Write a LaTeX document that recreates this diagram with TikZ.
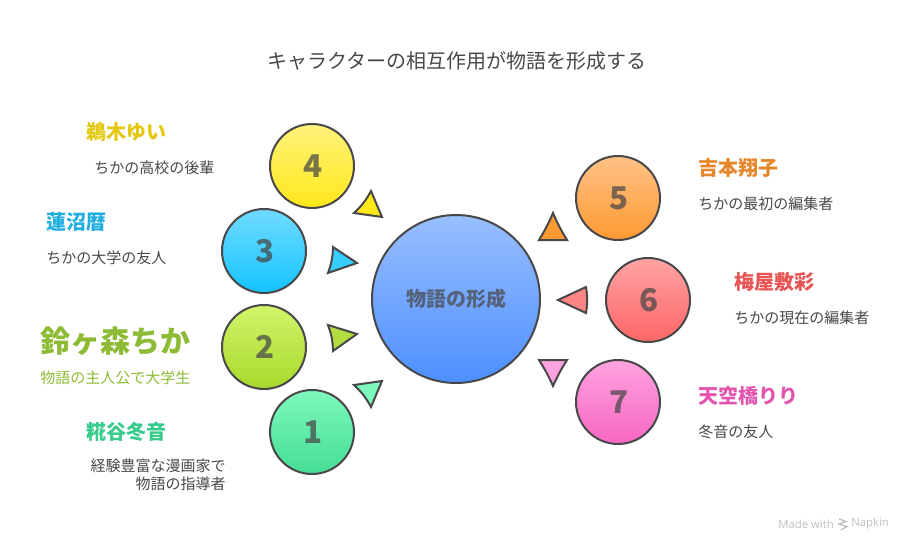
\documentclass[tikz,border=0pt]{standalone}
\usepackage{fontspec}
\setmainfont{Noto Sans CJK JP}
\newfontfamily\markfont{Open Sans}
\definecolor{colorLine}{HTML}{484848}
\definecolor{colorText}{HTML}{484848}
\definecolor{colorYui}{HTML}{E3C80F}
\definecolor{colorReki}{HTML}{1FAEE0}
\definecolor{colorChika}{HTML}{8DBB35}
\definecolor{colorFuyune}{HTML}{38CB8C}
\definecolor{colorShoko}{HTML}{E5862B}
\definecolor{colorAya}{HTML}{E85555}
\definecolor{colorRiri}{HTML}{E455B0}
\definecolor{storyTop}{HTML}{99BFFF}
\definecolor{storyBot}{HTML}{4D8FFF}
\definecolor{oneTop}{HTML}{7DF8BC}
\definecolor{oneBot}{HTML}{45DE96}
\definecolor{twoTop}{HTML}{D1F56B}
\definecolor{twoBot}{HTML}{A8D92B}
\definecolor{threeTop}{HTML}{70DBFF}
\definecolor{threeBot}{HTML}{14C4FF}
\definecolor{fourTop}{HTML}{FFF27A}
\definecolor{fourBot}{HTML}{FFE81A}
\definecolor{fiveTop}{HTML}{FFC285}
\definecolor{fiveBot}{HTML}{FF9A33}
\definecolor{sixTop}{HTML}{FFA3A3}
\definecolor{sixBot}{HTML}{FF6666}
\definecolor{sevenTop}{HTML}{FFA3E0}
\definecolor{sevenBot}{HTML}{F766C2}
\newcommand{\numeral}[1]{\raisebox{-1.3pt}{\kern1pt #1}}
\tikzset{
  person/.style={circle, draw=colorLine, line width=1.5pt, minimum size=63pt, inner sep=0pt,
    font=\bfseries\fontsize{23.5pt}{23.5pt}\selectfont, text=black!72, text opacity=0.72},
  story/.style={circle, draw=colorLine, line width=1.5pt, minimum size=126pt, inner sep=0pt,
    font=\bfseries\fontsize{15pt}{18pt}\selectfont, text=colorText, text opacity=0.72},
  nametext/.style={anchor=west, inner sep=0pt, font=\bfseries\fontsize{15pt}{18pt}\selectfont},
  desctext/.style={anchor=west, inner sep=0pt, text=colorText, font=\fontsize{11.25pt}{13.5pt}\selectfont},
  tipshape/.style={draw=colorLine, line width=1.5pt, line join=miter},
}
\begin{document}
\begin{tikzpicture}[x=0.75pt, y=-0.75pt]
\useasboundingbox (0,0) rectangle (912,552);
\node[inner sep=0pt, text=colorText, font=\fontsize{15pt}{18pt}\selectfont] (title) at (457,60.5) {キャラクターの相互作用が物語を形成する};

\node[story, top color=storyTop, bottom color=storyBot] (story) at (456,299) {物語の形成};
\node[person, top color=oneTop, bottom color=oneBot] (p1) at (312,432) {\numeral{1}};
\node[person, top color=twoTop, bottom color=twoBot] (p2) at (264,347) {\numeral{2}};
\node[person, top color=threeTop, bottom color=threeBot] (p3) at (264,251) {\numeral{3}};
\node[person, top color=fourTop, bottom color=fourBot] (p4) at (312,166) {\numeral{4}};
\node[person, top color=fiveTop, bottom color=fiveBot] (p5) at (618,198) {\numeral{5}};
\node[person, top color=sixTop, bottom color=sixBot] (p6) at (648,300) {\numeral{6}};
\node[person, top color=sevenTop, bottom color=sevenBot] (p7) at (618,402) {\numeral{7}};

% tips
\draw[tipshape, fill=fourBot] (371,191) -- (382,217) -- (354,213) to[bend right=9] cycle;
\draw[tipshape, fill=threeBot!85!white] (333,247) -- (357,263) -- (328,273) to[bend right=9] cycle;
\draw[tipshape, fill=twoBot!90!white] (328,325) -- (357,334) -- (333,351) to[bend right=9] cycle;
\draw[tipshape, fill=oneTop] (354,385) -- (382,381) -- (371,407) to[bend right=9] cycle;
\draw[tipshape, fill=fiveBot] (553,213) to[bend right=4] (567,240) -- (539,240) to[bend right=4] cycle;
\draw[tipshape, fill=sixBot!80!white] (558,300) -- (586,287) to[bend left=9] (586,313) -- cycle;
\draw[tipshape, fill=sevenTop] (539,360) -- (567,360) to[bend right=4] (553,386) to[bend right=4] cycle;

% labels
\node[nametext, text=colorYui] (yui) at (86,132) {鵜木ゆい};
\node[desctext] (yuid) at (94,168) {ちかの高校の後輩};
\node[nametext, text=colorReki] (reki) at (46,222) {蓮沼暦};
\node[desctext] (rekid) at (46,258) {ちかの大学の友人};
\node[nametext, text=colorChika, font=\bfseries\fontsize{22.5pt}{26pt}\selectfont] (chika) at (40,341) {鈴ヶ森ちか};
\node[desctext, text=colorChika] (chikad) at (40,378) {物語の主人公で大学生};
\node[nametext, text=colorFuyune] (fuyune) at (86,432) {糀谷冬音};
\node[desctext, anchor=east, align=right] (fuyuned) at (226,474.5) {経験豊富な漫画家で\\物語の指導者};
\node[nametext, text=colorShoko] (shoko) at (698.5,168) {吉本翔子};
\node[desctext] (shokod) at (698,204) {ちかの最初の編集者};
\node[nametext, text=colorAya] (aya) at (734.5,282) {梅屋敷彩};
\node[desctext] (ayad) at (734,318) {ちかの現在の編集者};
\node[nametext, text=colorRiri] (riri) at (698,396) {天空橋りり};
\node[desctext] (ririd) at (698,432) {冬音の友人};

% mark
\node[anchor=east, inner sep=0pt, text=black!25, font=\markfont\fontsize{8.5pt}{10pt}\selectfont] (made) at (834,524) {Made with};
\node[anchor=west, inner sep=0pt, text=black!25, font=\markfont\fontsize{8.5pt}{10pt}\selectfont] (napkin) at (851,524) {Napkin};
\draw[black!25, line width=1pt] (839,519) -- (846,521.5) -- (839,524) -- (847,526.5) -- (841,530);
\end{tikzpicture}
\end{document}
